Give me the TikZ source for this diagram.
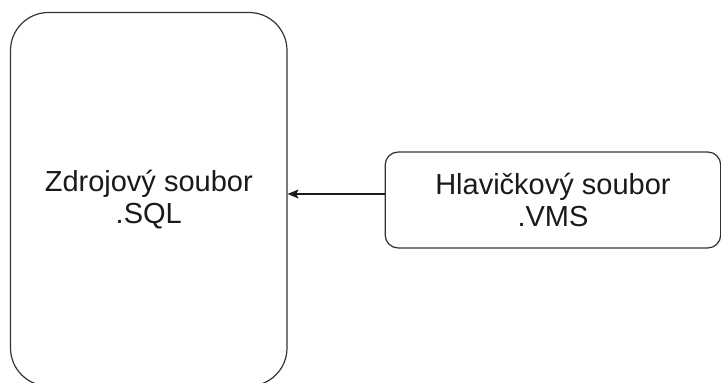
\documentclass[tikz,border=0pt]{standalone}
\usepackage{fontspec}
\setmainfont{Liberation Sans}
\usepackage{tikz}
\usetikzlibrary{arrows.meta,positioning,calc}
\definecolor{Ink}{HTML}{1A1A1A}
\definecolor{Edge}{HTML}{333333}
\tikzset{
  filebox/.style={draw=Edge,line width=1.2pt,fill=white,text=Ink,align=center,
    font=\fontsize{29}{32}\selectfont,inner sep=0pt},
  srcbox/.style={filebox,rounded corners=38pt,minimum width=276.5pt,minimum height=373.5pt},
  hdrbox/.style={filebox,rounded corners=13pt,minimum width=335.5pt,minimum height=96pt},
  arrow/.style={-{Stealth[length=11pt,width=9pt,inset=2.5pt]},line width=1.1pt,draw=Ink}
}
\begin{document}
\begin{tikzpicture}
\useasboundingbox (0,0) rectangle (721pt,383pt);
\node[srcbox] (sql) at (148.75pt,183.75pt) {Zdrojový soubor\\.SQL};
\node[hdrbox,right=97pt of sql.east,anchor=west,yshift=-0.75pt] (vms) {Hlavičkový soubor\\.VMS};
\draw[arrow] ([yshift=6pt]vms.west) -- ([yshift=6pt]vms.west -| sql.east);
\end{tikzpicture}
\end{document}
